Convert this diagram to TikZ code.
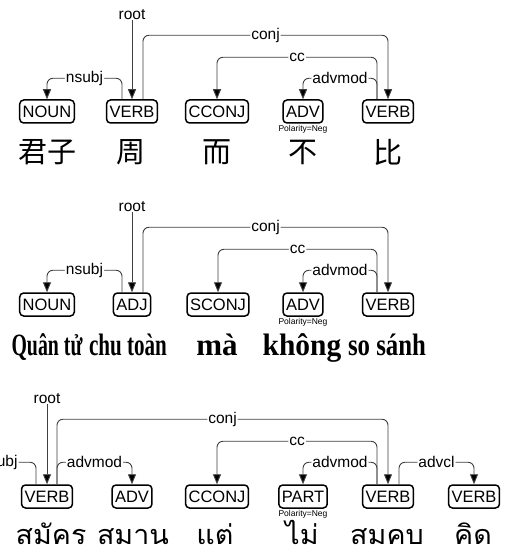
\documentclass[tikz,border=0pt]{standalone}
\usepackage{fontspec}
\setmainfont{Liberation Sans}
\newfontfamily\cjkfont{Noto Sans CJK SC}
\newfontfamily\thaifont[Script=Thai]{Loma}
\newfontfamily\vnfont{Liberation Serif}
\usetikzlibrary{arrows.meta,calc}
\tikzset{
  tagbox/.style={draw=black, line width=1.5pt, rounded corners=4pt, minimum height=23pt, inner xsep=3pt, inner ysep=0pt, font=\fontsize{16.5}{16.5}\selectfont},
  arc/.style={draw=black!75, line width=0.9pt, rounded corners=6pt, -{Triangle[width=8pt,length=10pt,fill=black]}},
  rootarc/.style={draw=black!75, line width=0.9pt, -{Triangle[width=8pt,length=10pt,fill=black]}},
  lbl/.style={fill=white, inner xsep=1pt, inner ysep=0pt, font=\fontsize{15.5}{15.5}\selectfont},
  feat/.style={font=\fontsize{8.5}{8.5}\selectfont, inner sep=0pt},
  zh/.style={font=\cjkfont\fontsize{29}{29}\selectfont, inner sep=0pt},
  th/.style={font=\thaifont\fontsize{27}{27}\selectfont, inner sep=0pt, anchor=base},
  vn/.style={font=\vnfont\bfseries\fontsize{31}{31}\selectfont, inner sep=0pt, anchor=base},
}
\newcommand{\thw}[1]{\scalebox{1.06}[1]{#1}}
\begin{document}
\begin{tikzpicture}[x=1pt,y=-1pt]
\clip (0,0) rectangle (506,553);
\fill[white] (0,0) rectangle (506,553);

% ---------- Panel 1 (Chinese) ----------
\node[tagbox] (a1) at (47,111.5) {NOUN};
\node[tagbox] (a2) at (132,111.5) {VERB};
\node[tagbox] (a3) at (217,111.5) {CCONJ};
\node[tagbox] (a4) at (303,111.5) {ADV};
\node[tagbox] (a5) at (388,111.5) {VERB};
\node[feat] (af4) at (303,129) {Polarity=Neg};
\node[zh] (aw1) at (47,152) {君子};
\node[zh] (aw2) at (131,152) {周};
\node[zh] (aw3) at (217,152) {而};
\node[zh] (aw4) at (303,152) {不};
\node[zh] (aw5) at (388,152) {比};
\node[lbl] (aroot) at (132,15) {root};
\draw[rootarc] (aroot.south) -- (a2.north);
\draw[arc] ([xshift=-10pt]a2.north) -- ++(0,-21) -| node[lbl,pos=0.25] {nsubj} (a1.north);
\draw[arc] ([xshift=11pt]a2.north) -- ++(0,-64) -| node[lbl,pos=0.25] {conj} (a5.north);
\draw[arc] ([xshift=-11pt]a5.north) -- ++(0,-42) -| node[lbl,pos=0.25] {cc} (a3.north);
\draw[arc] ([xshift=-11pt]a5.north) -- ++(0,-21) -| node[lbl,pos=0.25] {advmod} (a4.north);

% ---------- Panel 2 (Vietnamese) ----------
\node[tagbox] (b1) at (47,304.5) {NOUN};
\node[tagbox] (b2) at (132,304.5) {ADJ};
\node[tagbox] (b3) at (218,304.5) {SCONJ};
\node[tagbox] (b4) at (303,304.5) {ADV};
\node[tagbox] (b5) at (388,304.5) {VERB};
\node[feat] (bf4) at (303,322) {Polarity=Neg};
\node[vn] (bw1) at (47,355) {\scalebox{0.64}[1]{Quân tử}};
\node[vn] (bw2) at (128,355) {\scalebox{0.68}[1]{chu toàn}};
\node[vn] (bw3) at (217,355) {mà};
\node[vn] (bw4) at (302,355) {\scalebox{0.95}[1]{không}};
\node[vn] (bw5) at (387,355) {\scalebox{0.8}[1]{so sánh}};
\node[lbl] (broot) at (132,207) {root};
\draw[rootarc] (broot.south) -- (b2.north);
\draw[arc] ([xshift=-10pt]b2.north) -- ++(0,-22) -| node[lbl,pos=0.25] {nsubj} (b1.north);
\draw[arc] ([xshift=11pt]b2.north) -- ++(0,-65) -| node[lbl,pos=0.25] {conj} (b5.north);
\draw[arc] ([xshift=-11pt]b5.north) -- ++(0,-43) -| node[lbl,pos=0.25] {cc} (b3.north);
\draw[arc] ([xshift=-11pt]b5.north) -- ++(0,-22) -| node[lbl,pos=0.25] {advmod} (b4.north);

% ---------- Panel 3 (Thai) ----------
\coordinate (c0) at (-38,485);
\node[tagbox] (c1) at (47,496.5) {VERB};
\node[tagbox] (c2) at (132,496.5) {ADV};
\node[tagbox] (c3) at (217,496.5) {CCONJ};
\node[tagbox] (c4) at (303,496.5) {PART};
\node[tagbox] (c5) at (388,496.5) {VERB};
\node[tagbox] (c6) at (474,496.5) {VERB};
\node[feat] (cf4) at (303,514) {Polarity=Neg};
\node[th] (cw1) at (51,544) {\thw{สมัคร}};
\node[th] (cw2) at (133,544) {\thw{สมาน}};
\node[th] (cw3) at (215,544) {\thw{แต่}};
\node[th] (cw4) at (302,544) {\thw{ไม่}};
\node[th] (cw5) at (387,544) {\thw{สมคบ}};
\node[th] (cw6) at (473,544) {\thw{คิด}};
\node[lbl] (croot) at (47,399) {root};
\draw[rootarc] (croot.south) -- (c1.north);
\draw[arc] ([xshift=-11pt]c1.north) -- ++(0,-22) -| node[lbl,pos=0.25] {nsubj} (c0);
\draw[arc] ([xshift=10pt]c1.north) -- ++(0,-65) -| node[lbl,pos=0.25] {conj} (c5.north);
\draw[arc] ([xshift=10pt]c1.north) -- ++(0,-22) -| node[lbl,pos=0.25] {advmod} (c2.north);
\draw[arc] ([xshift=-11pt]c5.north) -- ++(0,-43) -| node[lbl,pos=0.25] {cc} (c3.north);
\draw[arc] ([xshift=-11pt]c5.north) -- ++(0,-22) -| node[lbl,pos=0.25] {advmod} (c4.north);
\draw[arc] ([xshift=11pt]c5.north) -- ++(0,-22) -| node[lbl,pos=0.25] {advcl} (c6.north);
\end{tikzpicture}
\end{document}
